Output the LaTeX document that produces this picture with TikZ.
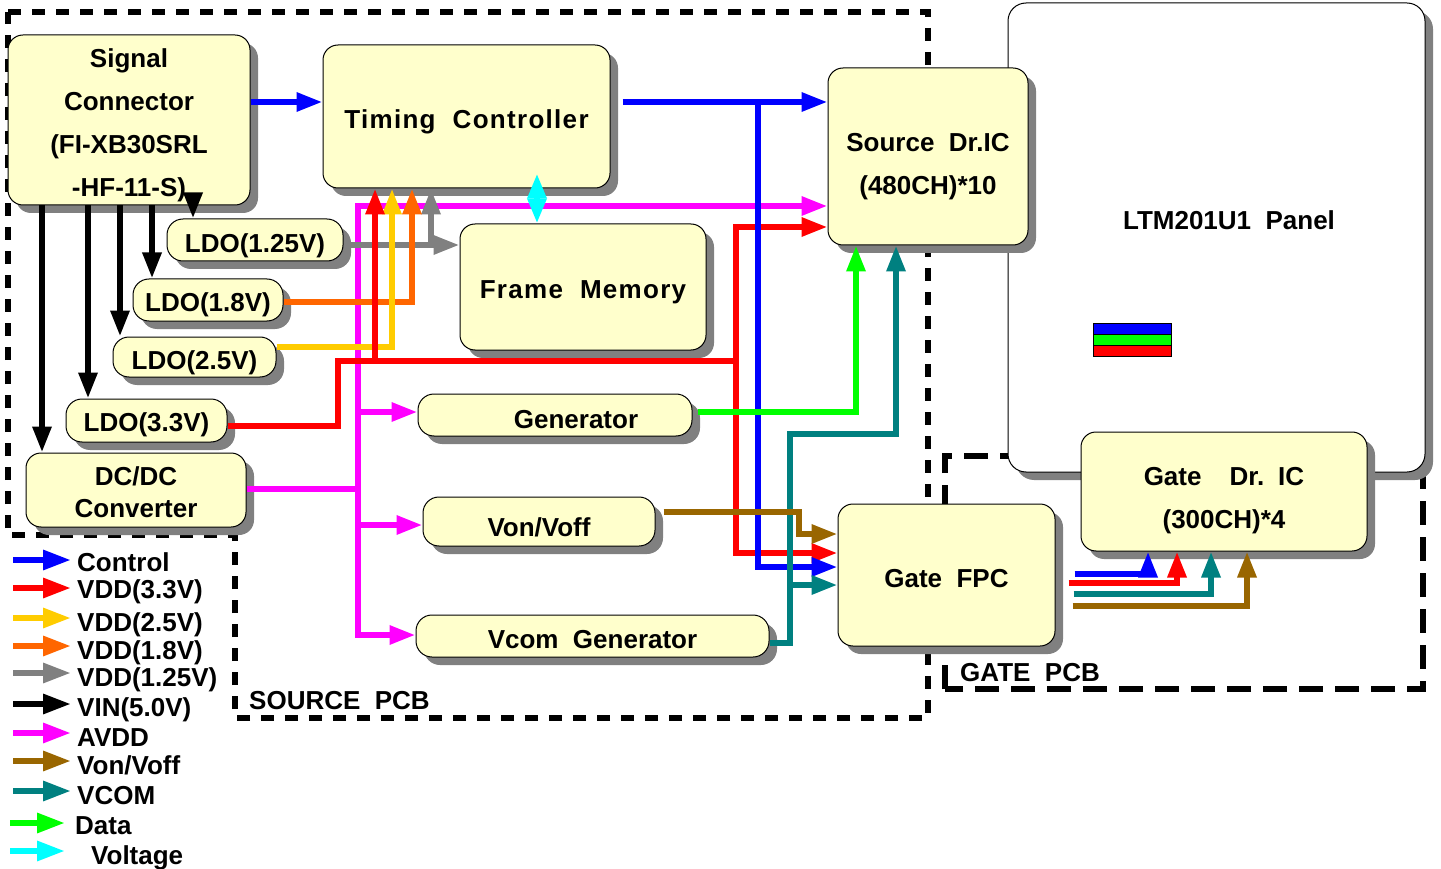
\documentclass[tikz,border=0pt]{standalone}
\usepackage{fontspec}
\setmainfont{Liberation Sans}
\newfontfamily\widefont[LetterSpace=5]{Liberation Sans}
\usetikzlibrary{arrows.meta,calc,shadows}
\definecolor{BoxFill}{HTML}{FFFFCC}
\definecolor{ShadeGray}{HTML}{808080}
\definecolor{CtlBlue}{HTML}{0000FF}
\definecolor{VddRed}{HTML}{FF0000}
\definecolor{VddYellow}{HTML}{FFCC00}
\definecolor{VddOrange}{HTML}{FF6600}
\definecolor{VddGray}{HTML}{808080}
\definecolor{AvddPink}{HTML}{FF00FF}
\definecolor{VonBrown}{HTML}{996600}
\definecolor{VcomTeal}{HTML}{008080}
\definecolor{DataGreen}{HTML}{00FF00}
\definecolor{VoltCyan}{HTML}{00FFFF}

\begin{document}
\begin{tikzpicture}[x=1pt, y=-1pt,
  blk/.style={draw=black, line width=1pt, fill=BoxFill, rounded corners=15pt,
              align=center, inner sep=0pt,
              font=\fontsize{26}{43}\selectfont\bfseries,
              general shadow={fill=ShadeGray, shadow xshift=8pt, shadow yshift=-8pt}},
  pill/.style={blk, rounded corners=16pt},
  lbl/.style={font=\fontsize{26}{30}\selectfont\bfseries, inner sep=0pt,
              text height=19pt, text depth=0pt, anchor=west},
  wire/.style={line width=6pt},
  arr/.style={wire, -{Triangle[length=26pt, width=18pt]}},
  both/.style={wire, {Triangle[length=26pt, width=18pt]}-{Triangle[length=26pt, width=18pt]}},
  legarr/.style={wire, -{Triangle[length=28pt, width=19pt]}},
  pcbS/.style={line width=6pt, dash pattern=on 13pt off 11pt},
  pcbG/.style={line width=6pt, dash pattern=on 24pt off 12pt}]
  \useasboundingbox (0,0) rectangle (1441,869);

  % board outlines
  \draw[pcbS] (8,12) -- (928,12) -- (928,718) -- (235,718) -- (235,535) -- (8,535) -- cycle;
  \draw[pcbG] (945,689) -- (945,456) -- (1423,456) -- (1423,689) -- cycle;

  % panel
  \node[blk, fill=white, rounded corners=18pt, minimum width=417pt, minimum height=469pt] (panel) at (1216.5,237.5) {};
  \node[lbl, anchor=center] (panelname) at (1229,220) {LTM201U1\ \ Panel};
  \draw[line width=1pt, fill=CtlBlue] (1093,323) rectangle (1171,334);
  \draw[line width=1pt, fill=DataGreen] (1093,334) rectangle (1171,345);
  \draw[line width=1pt, fill=VddRed] (1093,345) rectangle (1171,356);

  % blocks
  \node[blk, minimum width=242pt, minimum height=170pt] (sigconn) at (129,120) {\rule{0pt}{29pt}Signal\\Connector\\(FI-XB30SRL\\-HF-11-S)};
  \node[blk, minimum width=287pt, minimum height=143pt] (tcon) at (466.5,116.5) {\rule{0pt}{29pt}\widefont Timing\ \ Controller};
  \node[blk, minimum width=200pt, minimum height=177pt] (srcic) at (928,156.5) {\rule{0pt}{39pt}Source\ \ Dr.IC\\(480CH)*10};
  \node[blk, minimum width=246pt, minimum height=126pt] (fmem) at (583,287) {\rule{0pt}{29pt}\widefont Frame\ \ Memory};
  \node[pill, minimum width=176pt, minimum height=42pt] (ldo125) at (255,240) {\rule{0pt}{31pt}LDO(1.25V)};
  \node[pill, minimum width=150pt, minimum height=42pt] (ldo18) at (208,300) {\rule{0pt}{29pt}LDO(1.8V)};
  \node[pill, minimum width=163pt, minimum height=40pt] (ldo25) at (194.5,357) {\rule{0pt}{31pt}LDO(2.5V)};
  \node[pill, minimum width=161pt, minimum height=43pt] (ldo33) at (146.5,420.5) {\rule{0pt}{27pt}LDO(3.3V)};
  \node[blk, font=\fontsize{26}{32}\selectfont\bfseries, minimum width=220pt, minimum height=74pt] (dcdc) at (136,490) {\rule{0pt}{23pt}DC/DC\\Converter};
  \node[pill, minimum width=274pt, minimum height=42pt] (gen) at (555,415) {\rule{0pt}{27pt}\hspace*{42pt}Generator};
  \node[pill, minimum width=232pt, minimum height=49pt] (vonoff) at (539,521.5) {\rule{0pt}{31pt}Von/Voff};
  \node[pill, minimum width=353pt, minimum height=42pt] (vcom) at (592.5,636) {\rule{0pt}{25pt}Vcom\ \ Generator};
  \node[blk, minimum width=217pt, minimum height=142pt] (gfpc) at (946.5,575) {\rule{0pt}{25pt}Gate\ \ FPC};
  \node[blk, minimum width=286pt, minimum height=119pt] (gateic) at (1224,491.5) {\rule{0pt}{37pt}Gate\hspace{28pt}Dr.\hspace{14pt}IC\\(300CH)*4};

  % AVDD
  \draw[wire, AvddPink] (dcdc.east |- 0,489) -- (358,489);
  \draw[both, AvddPink] (vcom.west |- 0,635) -- (358,635) -- (358,206) -- (srcic.west |- 0,206);
  \draw[arr, AvddPink] (358,412) -- (gen.west |- 0,412);
  \draw[arr, AvddPink] (358,525) -- (vonoff.west |- 0,525);

  % VIN
  \draw[arr] (sigconn.south -| 42,0) -- (dcdc.north -| 42,0);
  \draw[arr] (sigconn.south -| 88,0) -- (ldo33.north -| 88,0);
  \draw[arr] (sigconn.south -| 120,0) -- (ldo25.north -| 120,0);
  \draw[arr] (sigconn.south -| 152,0) -- (ldo18.north -| 152,0);
  \draw[arr] (sigconn.south -| 193,0) -- (ldo125.north -| 193,0);

  % LDO outputs
  \draw[arr, VddGray] (ldo125.east |- 0,245) -- (fmem.west |- 0,245);
  \draw[arr, VddGray] (431,245) -- (tcon.south -| 431,0);
  \draw[arr, VddOrange] (ldo18.east |- 0,302) -- (412,302) -- (tcon.south -| 412,0);
  \draw[arr, VddYellow] (ldo25.east |- 0,347) -- (392,347) -- (tcon.south -| 392,0);
  \draw[arr, VddRed] (ldo33.east |- 0,426) -- (338,426) -- (338,361) -- (736,361) -- (736,227) -- (srcic.west |- 0,227);
  \draw[arr, VddRed] (375,361) -- (tcon.south -| 375,0);
  \draw[arr, VddRed] (736,361) -- (736,553) -- (gfpc.west |- 0,553);

  % control
  \draw[arr, CtlBlue] (sigconn.east |- 0,102) -- (tcon.west |- 0,102);
  \draw[arr, CtlBlue] ($(tcon.east |- 0,102)+(12,0)$) -- (srcic.west |- 0,102);
  \draw[arr, CtlBlue] (758,102) -- (758,567) -- (gfpc.west |- 0,567);
  \draw[wire, VoltCyan, {Triangle[length=25pt, width=18pt]}-{Triangle[length=25pt, width=18pt]}] ($(tcon.south -| 537,0)+(0,-15)$) -- (fmem.north -| 537,0);

  % generators
  \draw[arr, DataGreen] ($(gen.east |- 0,412)+(5,0)$) -- (856,412) -- (srcic.south -| 856,0);
  \draw[arr, VcomTeal] (vcom.east |- 0,643) -- (790,643) -- (790,434) -- (896,434) -- (srcic.south -| 896,0);
  \draw[arr, VcomTeal] (790,585) -- (gfpc.west |- 0,585);
  \draw[arr, VonBrown] ($(vonoff.east |- 0,512)+(8,0)$) -- (799,512) -- (799,534) -- (gfpc.west |- 0,534);

  % gate FPC to gate driver
  \draw[arr, CtlBlue] ($(gfpc.east |- 0,574)+(19,0)$) -- (1148,574) -- (gateic.south -| 1148,0);
  \draw[arr, VddRed] ($(gfpc.east |- 0,583)+(13,0)$) -- (1177,583) -- (gateic.south -| 1177,0);
  \draw[arr, VcomTeal] ($(gfpc.east |- 0,594)+(18,0)$) -- (1211,594) -- (gateic.south -| 1211,0);
  \draw[arr, VonBrown] ($(gfpc.east |- 0,606)+(17,0)$) -- (1247,606) -- (gateic.south -| 1247,0);

  % board names
  \node[lbl] (srcpcb) at (249,700) {SOURCE\ \ PCB};
  \node[lbl] (gatepcb) at (960,672) {GATE\ \ PCB};

  % legend
  \node[lbl] (lgctl) at (77,562) {Control};
  \draw[legarr, CtlBlue] ($(lgctl.west)+(-64,-2)$) -- ($(lgctl.west)+(-6,-2)$);
  \node[lbl] (lgv33) at (77,589) {VDD(3.3V)};
  \draw[legarr, VddRed] ($(lgv33.west)+(-64,-1)$) -- ($(lgv33.west)+(-6,-1)$);
  \node[lbl] (lgv25) at (77,622) {VDD(2.5V)};
  \draw[legarr, VddYellow] ($(lgv25.west)+(-64,-4)$) -- ($(lgv25.west)+(-6,-4)$);
  \node[lbl] (lgv18) at (77,650) {VDD(1.8V)};
  \draw[legarr, VddOrange] ($(lgv18.west)+(-64,-4)$) -- ($(lgv18.west)+(-6,-4)$);
  \node[lbl] (lgv125) at (77,677) {VDD(1.25V)};
  \draw[legarr, VddGray] ($(lgv125.west)+(-64,-4)$) -- ($(lgv125.west)+(-6,-4)$);
  \node[lbl] (lgvin) at (77,707) {VIN(5.0V)};
  \draw[legarr] ($(lgvin.west)+(-64,-3)$) -- ($(lgvin.west)+(-6,-3)$);
  \node[lbl] (lgavdd) at (77,737) {AVDD};
  \draw[legarr, AvddPink] ($(lgavdd.west)+(-64,-4)$) -- ($(lgavdd.west)+(-6,-4)$);
  \node[lbl] (lgvon) at (77,765) {Von/Voff};
  \draw[legarr, VonBrown] ($(lgvon.west)+(-64,-4)$) -- ($(lgvon.west)+(-6,-4)$);
  \node[lbl] (lgvcom) at (77,795) {VCOM};
  \draw[legarr, VcomTeal] ($(lgvcom.west)+(-64,-4)$) -- ($(lgvcom.west)+(-6,-4)$);
  \node[lbl] (lgdata) at (75,825) {Data};
  \draw[legarr, DataGreen] ($(lgdata.west)+(-65,-2)$) -- ($(lgdata.west)+(-10,-2)$);
  \node[lbl] (lgvolt) at (91,855) {Voltage};
  \draw[legarr, VoltCyan] ($(lgvolt.west)+(-81,-4)$) -- ($(lgvolt.west)+(-26,-4)$);
\end{tikzpicture}
\end{document}
